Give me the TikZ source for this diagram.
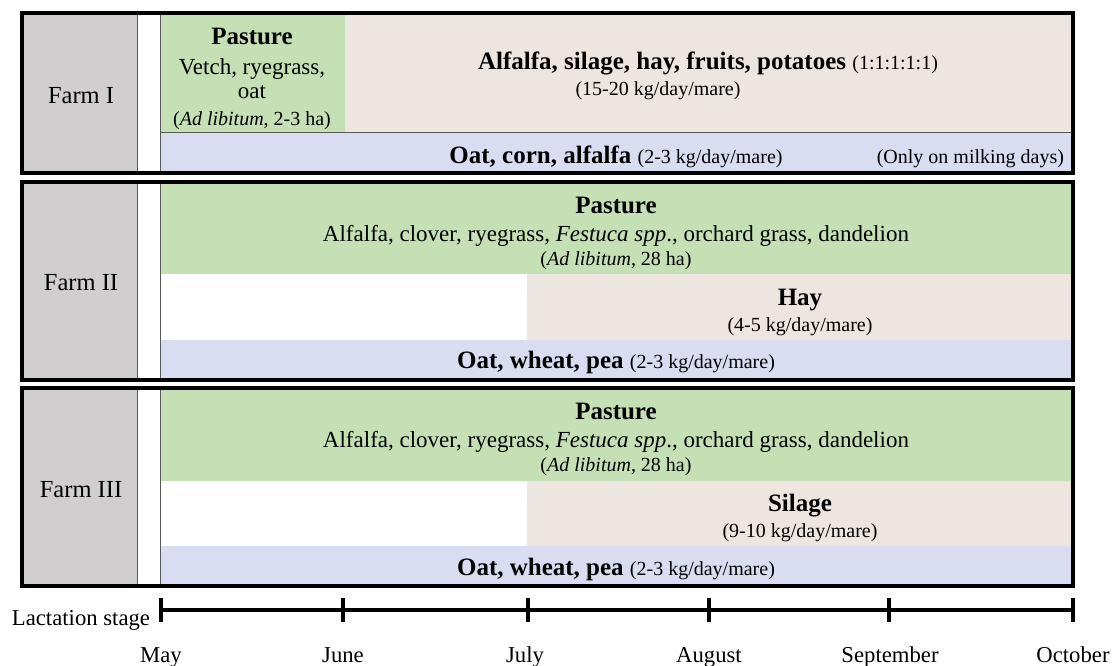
\documentclass[tikz,border=0pt]{standalone}
\usepackage{fontspec}
\setmainfont{Liberation Serif}
\definecolor{farmgray}{HTML}{D0CECE}
\definecolor{pastgreen}{HTML}{C5E0B4}
\definecolor{feedbeige}{HTML}{EDE5DF}
\definecolor{grainblue}{HTML}{DADCF1}
\newcommand\fbold{\fontsize{25}{29}\selectfont\bfseries}
\newcommand\freg{\fontsize{23}{27}\selectfont}
\newcommand\fsmall{\fontsize{20}{23}\selectfont}
\newcommand\ffarm{\fontsize{24.5}{28}\selectfont}
\newcommand\faxis{\fontsize{22.7}{26}\selectfont}
\tikzset{
  cell/.style={draw=none, inner sep=0pt, outer sep=0pt, anchor=north west},
  txt/.style={inner sep=0pt, outer sep=0pt, anchor=base},
  thinline/.style={draw=black!65, line width=1pt},
  boxline/.style={draw=black, line width=3.2pt},
  axisline/.style={draw=black, line width=3.4pt},
}
\begin{document}
\begin{tikzpicture}[x=1pt, y=-1pt]
\useasboundingbox (0,0) rectangle (1113,666);
% ---------- Farm I ----------
\node[cell, fill=farmgray, minimum width=115pt, minimum height=160pt] (g1) at (22,13) {};
\node[cell, fill=pastgreen, minimum width=185pt, minimum height=120pt] (p1) at (160,13) {};
\node[cell, fill=feedbeige, minimum width=728pt, minimum height=120pt] (b1) at (345,13) {};
\node[cell, fill=grainblue, minimum width=913pt, minimum height=40pt] (c1) at (160,133) {};
\draw[thinline] (g1.north east) -- (g1.south east);
\draw[thinline] (p1.north west) -- (c1.south west);
\draw[thinline] (c1.north west) -- (c1.north east);
\draw[boxline] (g1.north west) rectangle (c1.south east);
\node[txt] (farm1) at (81,104) {\ffarm Farm I};
\node[txt] (p1a) at (252,45) {\fbold Pasture};
\node[txt] (p1b) at (252,75) {\freg Vetch, ryegrass,};
\node[txt] (p1c) at (252,99) {\freg oat};
\node[txt] (p1d) at (252,126) {\fsmall (\textit{Ad libitum}, 2-3 ha)};
\node[txt] (b1a) at (708,70) {\fbold Alfalfa, silage, hay, fruits, potatoes \fsmall\mdseries(1:1:1:1:1)};
\node[txt] (b1b) at (658,96) {\fsmall (15-20 kg/day/mare)};
\node[txt] (c1a) at (616,163) {\fbold Oat, corn, alfalfa \fsmall\mdseries(2-3 kg/day/mare)};
\node[txt, anchor=base east] (c1b) at (1064,163) {\fsmall (Only on milking days)};
% ---------- Farm II ----------
\node[cell, fill=farmgray, minimum width=115pt, minimum height=198pt] (g2) at (22,182) {};
\node[cell, fill=pastgreen, minimum width=913pt, minimum height=92pt] (p2) at (160,182) {};
\node[cell, fill=feedbeige, minimum width=546pt, minimum height=66pt] (b2) at (527,274) {};
\node[cell, fill=grainblue, minimum width=913pt, minimum height=40pt] (c2) at (160,340) {};
\draw[thinline] (g2.north east) -- (g2.south east);
\draw[thinline] (p2.north west) -- (c2.south west);
\draw[boxline] (g2.north west) rectangle (c2.south east);
\node[txt] (farm2) at (81,290) {\ffarm Farm II};
\node[txt] (p2a) at (616,213) {\fbold Pasture};
\node[txt] (p2b) at (616,241) {\freg Alfalfa, clover, ryegrass, \textit{Festuca spp}., orchard grass, dandelion};
\node[txt] (p2c) at (616,265) {\fsmall (\textit{Ad libitum}, 28 ha)};
\node[txt] (b2a) at (800,305) {\fbold Hay};
\node[txt] (b2b) at (800,331) {\fsmall (4-5 kg/day/mare)};
\node[txt] (c2a) at (616,368) {\fbold Oat, wheat, pea \fsmall\mdseries(2-3 kg/day/mare)};
% ---------- Farm III ----------
\node[cell, fill=farmgray, minimum width=115pt, minimum height=198pt] (g3) at (22,388) {};
\node[cell, fill=pastgreen, minimum width=913pt, minimum height=93pt] (p3) at (160,388) {};
\node[cell, fill=feedbeige, minimum width=546pt, minimum height=65pt] (b3) at (527,481) {};
\node[cell, fill=grainblue, minimum width=913pt, minimum height=40pt] (c3) at (160,546) {};
\draw[thinline] (g3.north east) -- (g3.south east);
\draw[thinline] (p3.north west) -- (c3.south west);
\draw[boxline] (g3.north west) rectangle (c3.south east);
\node[txt] (farm3) at (81,497) {\ffarm Farm III};
\node[txt] (p3a) at (616,419) {\fbold Pasture};
\node[txt] (p3b) at (616,447) {\freg Alfalfa, clover, ryegrass, \textit{Festuca spp}., orchard grass, dandelion};
\node[txt] (p3c) at (616,471) {\fsmall (\textit{Ad libitum}, 28 ha)};
\node[txt] (b3a) at (800,511) {\fbold Silage};
\node[txt] (b3b) at (800,537) {\fsmall (9-10 kg/day/mare)};
\node[txt] (c3a) at (616,575) {\fbold Oat, wheat, pea \fsmall\mdseries(2-3 kg/day/mare)};
% ---------- Timeline ----------
\coordinate (tMay) at (161,610);
\coordinate (tJun) at (343,610);
\coordinate (tJul) at (528,610);
\coordinate (tAug) at (709,610);
\coordinate (tSep) at (889,610);
\coordinate (tOct) at (1073,610);
\draw[axisline] (tMay) -- (tOct);
\foreach \t in {tMay,tJun,tJul,tAug,tSep,tOct}
  \draw[axisline] ([yshift=12pt]\t) -- ([yshift=-12pt]\t);
\node[txt, anchor=base east] (lact) at (150,625) {\faxis Lactation stage};
\node[txt] (mMay) at (161,662) {\faxis May};
\node[txt] (mJun) at (343,662) {\faxis June};
\node[txt] (mJul) at (525,662) {\faxis July};
\node[txt] (mAug) at (709,662) {\faxis August};
\node[txt] (mSep) at (890,662) {\faxis September};
\node[txt] (mOct) at (1073,662) {\faxis October};
\end{tikzpicture}
\end{document}
